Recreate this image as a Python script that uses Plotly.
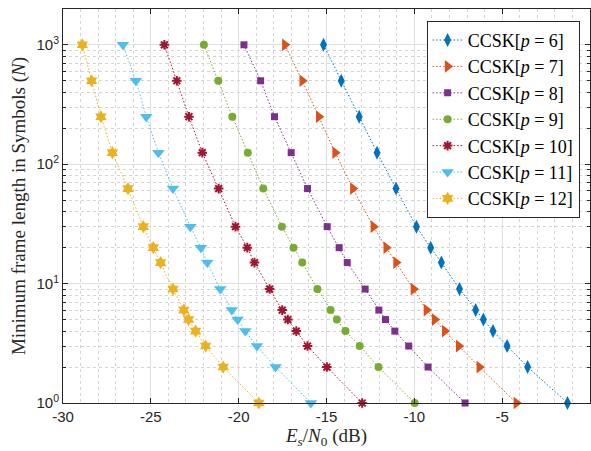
import plotly.graph_objects as go

# Frame length values (shared by all series)
N_vals = [1000, 500, 250, 125, 62.5, 30, 20, 15, 9, 6, 5, 4, 3, 2, 1]

# Es/N0 (dB) for each CCSK order
x_p6 = [-15.17, -14.16, -13.14, -12.12, -11.04, -9.88, -9.07, -8.46, -7.43, -6.51, -6.07, -5.52, -4.72, -3.55, -1.28]
x_p7 = [-17.37, -16.38, -15.44, -14.51, -13.50, -12.33, -11.60, -11.04, -10.05, -9.31, -8.84, -8.27, -7.47, -6.30, -4.19]
x_p8 = [-19.70, -18.75, -17.96, -17.01, -16.08, -14.96, -14.28, -13.82, -12.80, -12.02, -11.64, -11.11, -10.32, -9.22, -7.11]
x_p9 = [-21.98, -21.16, -20.36, -19.48, -18.60, -17.54, -16.88, -16.38, -15.52, -14.77, -14.41, -13.92, -13.11, -12.04, -9.98]
x_p10 = [-24.23, -23.52, -22.83, -22.07, -21.14, -20.18, -19.51, -19.10, -18.24, -17.52, -17.20, -16.72, -16.08, -14.98, -12.97]
x_p11 = [-26.59, -25.85, -25.26, -24.57, -23.74, -22.75, -22.15, -21.79, -21.05, -20.39, -20.06, -19.62, -18.96, -17.90, -15.89]
x_p12 = [-28.90, -28.37, -27.84, -27.19, -26.30, -25.43, -24.86, -24.44, -23.74, -23.12, -22.85, -22.45, -21.88, -20.88, -18.85]

series_names = ["CCSK[<i>p</i> = 6]", "CCSK[<i>p</i> = 7]", "CCSK[<i>p</i> = 8]",
                "CCSK[<i>p</i> = 9]", "CCSK[<i>p</i> = 10]", "CCSK[<i>p</i> = 11]",
                "CCSK[<i>p</i> = 12]"]
series_x = [x_p6, x_p7, x_p8, x_p9, x_p10, x_p11, x_p12]
colors = ["#0072BD", "#D95319", "#7E2F8E", "#77AC30", "#A2142F", "#4DBEEE", "#EDB120"]
symbols = ["diamond-tall", "triangle-right", "square", "circle", "asterisk-open", "triangle-down", "hexagram"]
sizes = [10, 11, 7, 8, 8, 11, 10]

y_tickvals = [1, 10, 100, 1000]
y_ticktext = ["10<sup>0</sup>", "10<sup>1</sup>", "10<sup>2</sup>", "10<sup>3</sup>"]
x_tickvals = [-30, -25, -20, -15, -10, -5, 0]

SERIF = "Liberation Serif"
SANS = "Liberation Sans"

fig = go.Figure()
for name, xs, c, s, sz in zip(series_names, series_x, colors, symbols, sizes):
    mk = dict(symbol=s, size=sz, color=c, line=dict(width=0, color=c))
    if s == "asterisk-open":
        mk = dict(symbol=s, size=sz, color=c, line=dict(width=2, color=c))
    fig.add_trace(go.Scatter(
        x=xs, y=N_vals, mode="lines+markers", name=name,
        line=dict(color=c, width=1, dash="1.5px,2px"),
        marker=mk, cliponaxis=False,
    ))

axis_common = dict(
    showline=True, linecolor="#262626", linewidth=1, mirror="allticks",
    ticks="inside", ticklen=5, tickcolor="#262626",
    showgrid=True, gridcolor="#e0e0e0", gridwidth=1,
    zeroline=False,
    tickfont=dict(family=SANS, size=15, color="#262626"),
)

fig.update_xaxes(
    **axis_common,
    range=[-30, 0], tickvals=x_tickvals, ticktext=[str(v) for v in x_tickvals],
    minor=dict(dtick=1, tick0=0, showgrid=True, gridcolor="#d4d4d4", griddash="dot", ticks=""),
    title=dict(text="<i>E</i><sub><i>s</i></sub>/<i>N</i><sub>0</sub> (dB)",
               font=dict(family=SERIF, size=19, color="#262626"),
               standoff=3),
)
fig.update_yaxes(
    **axis_common,
    type="log", range=[0, 3.3], tickvals=y_tickvals, ticktext=y_ticktext,
    minor=dict(dtick="D1", showgrid=True, gridcolor="#d4d4d4", griddash="dot", ticks="inside", ticklen=3, tickcolor="#262626"),
    title=dict(text="Minimum frame length in Symbols (<i>N</i>)",
               font=dict(family=SERIF, size=19, color="#262626"),
               standoff=5),
)

fig.update_layout(
    width=591, height=451,
    margin=dict(l=63, r=1, t=9, b=48),
    paper_bgcolor="white", plot_bgcolor="white",
    legend=dict(
        x=0.69, y=0.97, xanchor="left", yanchor="top",
        bgcolor="white", bordercolor="#262626", borderwidth=1,
        font=dict(family=SERIF, size=18, color="#000000"),
        tracegroupgap=0,
    ),
    showlegend=True,
)

fig.write_html("out.html")
